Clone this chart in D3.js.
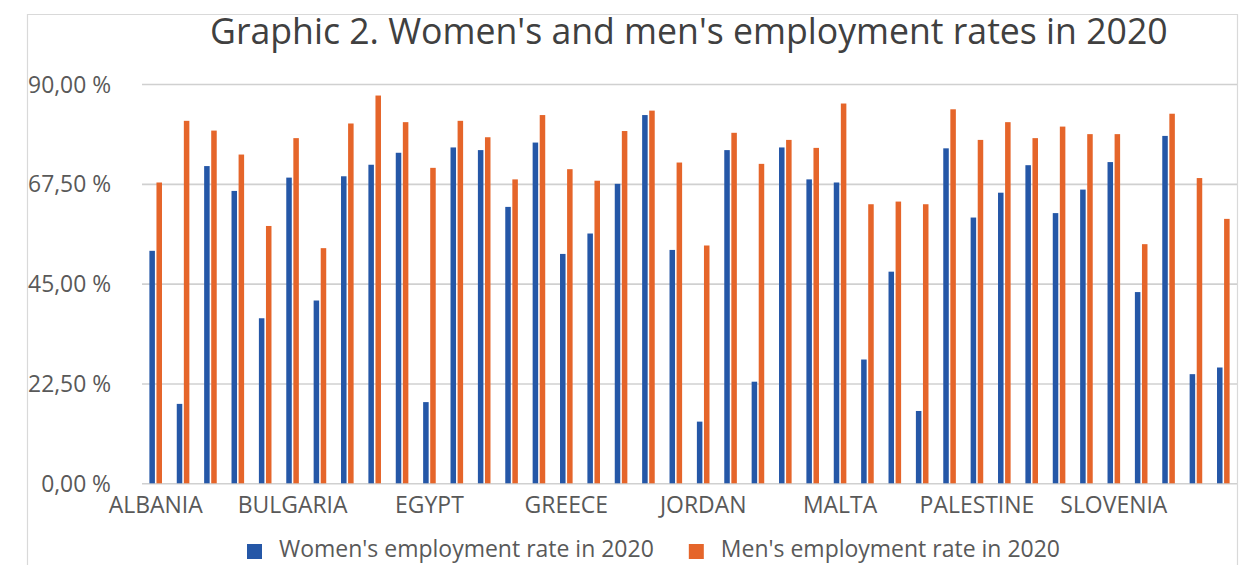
<!DOCTYPE html>
<html><head><meta charset="utf-8">
<script src="https://cdn.jsdelivr.net/npm/d3@7"></script>
<style>html,body{margin:0;padding:0;background:#fff;overflow:hidden}svg{display:block;font-family:"Open Sans",sans-serif}svg text{font-family:"Open Sans",sans-serif}</style>
</head><body><svg id="c" width="1253" height="565"></svg>
<script>
const categories = ["ALBANIA","ALGERIA","AUSTRIA","BELGIUM","BOSNIA AND HERZEGOVINA","BULGARIA","CROATIA","CYPRUS","CZECHIA","DENMARK","EGYPT","ESTONIA","FINLAND","FRANCE","GERMANY","GREECE","HUNGARY","IRELAND","ISRAEL","ITALY","JORDAN","LATVIA","LEBANON","LITHUANIA","LUXEMBOURG","MALTA","MAURITANIA","MONTENEGRO","MOROCCO","NETHERLANDS","PALESTINE","POLAND","PORTUGAL","ROMANIA","SLOVAKIA","SLOVENIA","SPAIN","SWEDEN","TUNISIA","TURKEY"];
const women = [52.4,17.9,71.5,65.9,37.2,68.9,41.2,69.2,71.8,74.5,18.3,75.7,75.1,62.3,76.8,51.7,56.3,67.5,83.0,52.6,13.9,75.1,22.9,75.7,68.5,67.8,27.9,47.7,16.3,75.5,59.9,65.5,71.7,60.9,66.2,72.4,43.1,78.3,24.6,26.1];
const men = [67.8,81.7,79.5,74.1,58.0,77.8,53.0,81.1,87.4,81.4,71.1,81.7,78.0,68.5,83.0,70.8,68.2,79.4,84.0,72.3,53.6,79.0,72.0,77.4,75.6,85.6,62.9,63.5,62.9,84.3,77.4,81.4,77.8,80.4,78.7,78.7,53.9,83.3,68.8,59.6];
const seriesNames = ["Women's employment rate in 2020","Men's employment rate in 2020"];
const seriesColors = ["#2557a7","#e5652a"];
const yTicks = [0,22.5,45,67.5,90];
const labelEvery = 5;
const titleText = "Graphic 2. Women's and men's employment rates in 2020";

const svg = d3.select("#c");
const W = 1253, H = 565;
const P = {left:142, right:1237, top:84, bottom:483.3};
const textCol = "#595959";

svg.append("path").attr("d", `M27.5,${H} V14.5 H1237.5 V${H}`)
  .attr("fill","none").attr("stroke","#d9d9d9").attr("stroke-width",1.2);

function fit(sel, target, base){
  sel.attr("font-size", base);
  const w = sel.node().getComputedTextLength();
  const fs = base*target/w;
  sel.attr("font-size", fs);
  return fs;
}

// title
const t = svg.append("text").attr("x",210).attr("y",44).attr("fill","#404040").text(titleText);
fit(t, 958, 30);

const y = d3.scaleLinear().domain([0,90]).range([P.bottom,P.top]);
const x0 = d3.scaleBand().domain(categories).range([P.left,P.right]).paddingInner(0.54).paddingOuter(0.27);
const x1 = d3.scaleBand().domain([0,1]).range([0,x0.bandwidth()]).paddingInner(0.22);

const fmt = v => d3.format(".2f")(v).replace(".",",") + " %";
const yAxis = svg.append("g").attr("transform",`translate(${P.left},0)`)
  .call(d3.axisLeft(y).tickValues(yTicks).tickFormat(fmt).tickSize(-(P.right-P.left)).tickPadding(31));
yAxis.attr("font-family",null).attr("font-size",null);
yAxis.select(".domain").remove();
yAxis.selectAll(".tick line").attr("stroke","#d0d0d0").attr("stroke-width",1.6);
const yt = yAxis.selectAll(".tick text").attr("fill",textCol);
const yfs = fit(yAxis.selectAll(".tick text").filter(d=>d===90), 83, 22);
yt.attr("font-size", yfs).attr("dy","0.35em");

// bars
const data = categories.map((c,i)=>({c, vals:[women[i],men[i]]}));
const g = svg.append("g");
const grp = g.selectAll("g").data(data).join("g").attr("transform",d=>`translate(${x0(d.c)},0)`);
grp.selectAll("rect").data(d=>d.vals.map((v,k)=>({v,k}))).join("rect")
  .attr("x",d=>x1(d.k)).attr("width",x1.bandwidth())
  .attr("y",d=>y(d.v)).attr("height",d=>y(0)-y(d.v))
  .attr("fill",d=>seriesColors[d.k]);

// x axis labels
const xAxis = svg.append("g").attr("transform",`translate(0,${P.bottom})`)
  .call(d3.axisBottom(x0).tickValues(categories.filter((c,i)=>i%labelEvery===0)).tickSize(0).tickPadding(0));
xAxis.attr("font-family",null).attr("font-size",null);
xAxis.select(".domain").remove();
const xt = xAxis.selectAll(".tick text").attr("fill",textCol).attr("dy",null).attr("y",30);
const xfs = fit(xAxis.selectAll(".tick text").filter(d=>d==="ALBANIA"), 94, 22);
xt.attr("font-size", xfs);

// legend
const lg = svg.append("g");
let lx = 247;
let lfs = 22;
seriesNames.forEach((n,k)=>{
  lg.append("rect").attr("x",lx).attr("y",544).attr("width",15).attr("height",15).attr("fill",seriesColors[k]);
  const tx = lg.append("text").attr("x",lx+32).attr("y",557).attr("fill",textCol).text(n);
  if(k===0) lfs = fit(tx, 375, 22); else tx.attr("font-size", lfs);
  lx = lx + 32 + tx.node().getComputedTextLength() + 35;
});
</script></body></html>
